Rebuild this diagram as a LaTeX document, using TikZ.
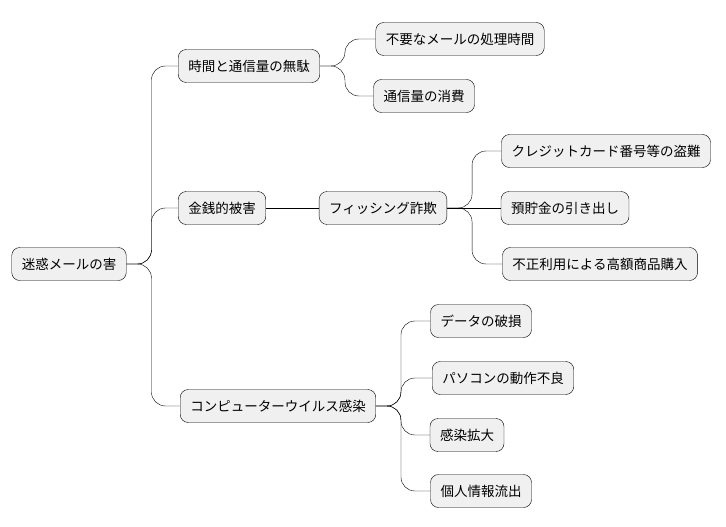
\documentclass[tikz,border=0pt]{standalone}
\usepackage{fontspec}
\setmainfont{Noto Sans CJK JP}
\begin{document}
\begin{tikzpicture}[x=1pt, y=-1pt,
        box/.style={draw, fill=black!6, rounded corners=8pt, minimum height=33pt, inner xsep=10pt, font=\fontsize{13.5}{16}\selectfont},
        link/.style={rounded corners=14pt}
    ]
    \useasboundingbox (0,0) rectangle (726,527);
    % Nodos
    \node[box] (meiwaku) at (69,264) {迷惑メールの害};
    \node[box] (jikan) at (249,66) {時間と通信量の無駄};
    \node[box] (fuyou) at (460,39) {不要なメールの処理時間};
    \node[box] (shouhi) at (424,96) {通信量の消費};
    \node[box] (kinsen) at (222,208) {金銭的被害};
    \node[box] (phishing) at (383,208) {フィッシング詐欺};
    \node[box] (credit) at (606,151) {クレジットカード番号等の盗難};
    \node[box] (yochokin) at (565,208) {預貯金の引き出し};
    \node[box] (fusei) at (600,264) {不正利用による高額商品購入};
    \node[box] (virus) at (278,406) {コンピューターウイルス感染};
    \node[box] (data) at (481,321) {データの破損};
    \node[box] (pc) at (503,378) {パソコンの動作不良};
    \node[box] (kakudai) at (467,435) {感染拡大};
    \node[box] (kojin) at (481,491) {個人情報流出};
    % Conexiones
    \draw[link] (meiwaku.east) -- ++(25,0) |- (jikan.west);
    \draw[link] (meiwaku.east) -- ++(25,0) |- (kinsen.west);
    \draw[link] (meiwaku.east) -- ++(25,0) |- (virus.west);

    \draw[link] (jikan.east) -- ++(25,0) |- (fuyou.west);
    \draw[link] (jikan.east) -- ++(25,0) |- (shouhi.west);

    \draw (kinsen.east) -- (phishing.west);
    \draw[link] (phishing.east) -- ++(25,0) |- (credit.west);
    \draw (phishing.east) -- (yochokin.west);
    \draw[link] (phishing.east) -- ++(25,0) |- (fusei.west);

    \draw[link] (virus.east) -- ++(25,0) |- (data.west);
    \draw[link] (virus.east) -- ++(25,0) |- (pc.west);
    \draw[link] (virus.east) -- ++(25,0) |- (kakudai.west);
    \draw[link] (virus.east) -- ++(25,0) |- (kojin.west);
\end{tikzpicture}
\end{document}
